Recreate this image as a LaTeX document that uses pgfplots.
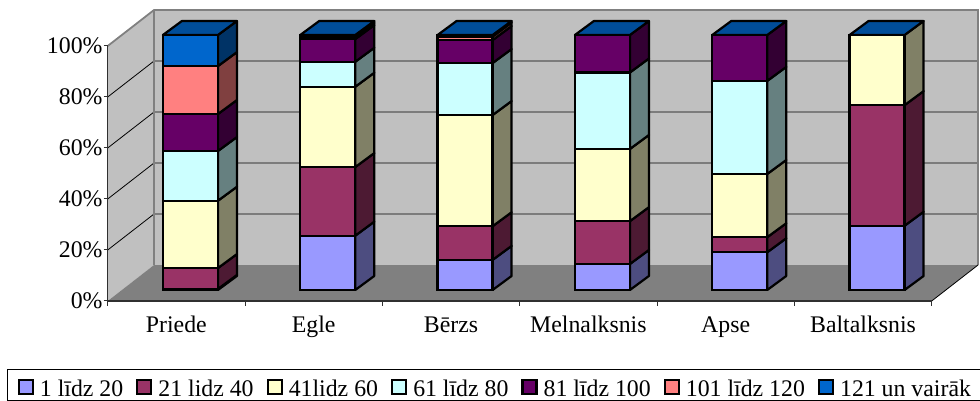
\documentclass[border=0pt]{standalone}
\usepackage{fontspec}
\setmainfont{Liberation Serif}
\usepackage{pgfplots}
\usepackage{pgfplotstable}
\pgfplotsset{compat=1.18}
\definecolor{c1}{HTML}{9999FF}\definecolor{s1}{HTML}{4D4D80}
\definecolor{c2}{HTML}{993366}\definecolor{s2}{HTML}{4D1A33}
\definecolor{c3}{HTML}{FFFFCC}\definecolor{s3}{HTML}{808066}
\definecolor{c4}{HTML}{CCFFFF}\definecolor{s4}{HTML}{668080}
\definecolor{c5}{HTML}{660066}\definecolor{s5}{HTML}{330033}
\definecolor{c6}{HTML}{FF8080}\definecolor{s6}{HTML}{804040}
\definecolor{c7}{HTML}{0066CC}\definecolor{s7}{HTML}{003366}
\definecolor{topc}{HTML}{004D99}
\definecolor{wall}{HTML}{C0C0C0}
\definecolor{floorc}{HTML}{808080}
\definecolor{axc}{HTML}{303030}
% x, then the share of each class (%)
\pgfplotstableread{
x c1 c2 c3 c4 c5 c6 c7
0 0.4 8.2 26.4 19.5 14.5 18.8 12.2
1 21.3 26.9 31.5 9.8 8.9 0.8 0.8
2 11.8 13.2 43.6 20.4 9.0 1.4 0.6
3 10.2 16.8 28.3 30.0 14.7 0 0
4 14.8 5.9 24.8 36.5 18.0 0 0
5 25.2 47.3 27.5 0 0 0 0
}\datatable
\newcommand{\sidef}[4]{% bar, low, high, colour
  \pgfmathsetmacro{\xa}{#1+0.2003}\pgfmathsetmacro{\xb}{#1+0.3387}
  \pgfmathsetmacro{\ya}{#2+5.49}\pgfmathsetmacro{\yb}{#3+5.49}
  \edef\temp{\noexpand\addplot[fill=#4,draw=black,line width=2.2pt,line join=round,forget plot]
    coordinates {(\xa,#2)(\xb,\ya)(\xb,\yb)(\xa,#3)} --cycle;}\temp}
\newcommand{\topf}[1]{%
  \pgfmathsetmacro{\xa}{#1-0.2003}\pgfmathsetmacro{\xb}{#1+0.2003}
  \pgfmathsetmacro{\xc}{#1+0.3387}\pgfmathsetmacro{\xd}{#1-0.0619}
  \edef\temp{\noexpand\addplot[fill=topc,draw=black,line width=2.2pt,line join=round,forget plot]
    coordinates {(\xa,100)(\xb,100)(\xc,105.49)(\xd,105.49)} --cycle;}\temp}
\begin{document}
\begin{tikzpicture}
\useasboundingbox (0,0) rectangle (980pt,401pt);
% walls, floor, ticks
\begin{axis}[
  at={(107.7pt,100pt)},anchor=south west,scale only axis,width=824pt,height=255pt,
  xmin=0,xmax=6,ymin=0,ymax=100,clip=false,
  axis x line*=bottom,axis y line*=left,
  axis line style={axc,line width=1.5pt,-},
  axis on top,
  tick align=outside,
  xtick={0.5,1.5,2.5,3.5,4.5,5.5},
  xticklabels={Priede,Egle,Bērzs,Melnalksnis,Apse,Baltalksnis},
  minor xtick={0,1,2,3,4,5,6},
  ytick={0,20,40,60,80,100},
  yticklabels={0\%,20\%,40\%,60\%,80\%,100\%},
  tick style={axc,line width=1pt},
  major x tick style={draw=none},
  minor tick length=5pt,
  major tick length=4pt,
  y tick label style={font=\fontsize{23.8}{26}\selectfont,inner xsep=0pt,xshift=-1pt},
  x tick label style={font=\fontsize{23.8}{26}\selectfont,anchor=base,yshift=-28pt},
]
\addplot[fill=wall,draw=none,forget plot] coordinates {(0.337,14.1)(6.337,14.1)(6.337,114.1)(0.337,114.1)} --cycle;
\addplot[fill=wall,draw=none,forget plot] coordinates {(0,0)(0.337,14.1)(0.337,114.1)(0,100)} --cycle;
\addplot[fill=floorc,draw=none,forget plot] coordinates {(0,0)(6,0)(6.337,14.1)(0.337,14.1)} --cycle;
\addplot[black,line width=0.8pt,forget plot] coordinates {(0,20)(0.337,34.1)(6.337,34.1)};
\addplot[black,line width=0.8pt,forget plot] coordinates {(0,40)(0.337,54.1)(6.337,54.1)};
\addplot[black,line width=0.8pt,forget plot] coordinates {(0,60)(0.337,74.1)(6.337,74.1)};
\addplot[black,line width=0.8pt,forget plot] coordinates {(0,80)(0.337,94.1)(6.337,94.1)};
\addplot[floorc,line width=1.8pt,forget plot] coordinates {(0,100)(0.337,114.1)(6.337,114.1)(6.337,14.1)};
\addplot[floorc,line width=2.6pt,forget plot] coordinates {(0.337,114.1)(0.337,14.1)};
\addplot[black,line width=0.8pt,forget plot] coordinates {(6,0)(6.337,14.1)};
\end{axis}
% side and top faces
\begin{axis}[
  at={(107.7pt,100pt)},anchor=south west,scale only axis,width=824pt,height=255pt,
  xmin=-0.6022,xmax=5.3978,ymin=-4.31,ymax=95.69,clip=false,hide axis]
\sidef{0}{0}{0.4}{s1}\sidef{0}{0.4}{8.6}{s2}\sidef{0}{8.6}{35}{s3}\sidef{0}{35}{54.5}{s4}\sidef{0}{54.5}{69}{s5}\sidef{0}{69}{87.8}{s6}\sidef{0}{87.8}{100}{s7}\topf{0}
\sidef{1}{0}{21.3}{s1}\sidef{1}{21.3}{48.2}{s2}\sidef{1}{48.2}{79.7}{s3}\sidef{1}{79.7}{89.5}{s4}\sidef{1}{89.5}{98.4}{s5}\sidef{1}{98.4}{99.2}{s6}\sidef{1}{99.2}{100}{s7}\topf{1}
\sidef{2}{0}{11.8}{s1}\sidef{2}{11.8}{25}{s2}\sidef{2}{25}{68.6}{s3}\sidef{2}{68.6}{89}{s4}\sidef{2}{89}{98}{s5}\sidef{2}{98}{99.4}{s6}\sidef{2}{99.4}{100}{s7}\topf{2}
\sidef{3}{0}{10.2}{s1}\sidef{3}{10.2}{27}{s2}\sidef{3}{27}{55.3}{s3}\sidef{3}{55.3}{85.3}{s4}\sidef{3}{85.3}{100}{s5}\topf{3}
\sidef{4}{0}{14.8}{s1}\sidef{4}{14.8}{20.7}{s2}\sidef{4}{20.7}{45.5}{s3}\sidef{4}{45.5}{82}{s4}\sidef{4}{82}{100}{s5}\topf{4}
\sidef{5}{0}{25.2}{s1}\sidef{5}{25.2}{72.5}{s2}\sidef{5}{72.5}{100}{s3}\topf{5}
\end{axis}
% front faces and legend
\begin{axis}[
  at={(107.7pt,100pt)},anchor=south west,scale only axis,width=824pt,height=255pt,
  xmin=-0.6022,xmax=5.3978,ymin=-4.31,ymax=95.69,clip=false,hide axis,
  ybar stacked,bar width=55pt,
  legend columns=7,
  legend image code/.code={\draw[#1,line width=2.2pt,draw=black] (0pt,-9.5pt) rectangle (14pt,4.5pt);},
  legend style={at={(axis description cs:-0.1218,-0.2667)},anchor=north west,
    draw=black,line width=0.8pt,font=\fontsize{23.8}{26}\selectfont,
    inner xsep=10pt,inner ysep=2pt,
    nodes={inner xsep=0pt,inner ysep=2pt,text height=22.6pt,text depth=0pt},
    /tikz/every even column/.append style={column sep=13pt},
    /tikz/every odd column/.append style={column sep=6pt}},
]
\addplot[fill=c1,draw=black,line width=2.2pt] table[x=x,y=c1]{\datatable};
\addplot[fill=c2,draw=black,line width=2.2pt] table[x=x,y=c2]{\datatable};
\addplot[fill=c3,draw=black,line width=2.2pt] table[x=x,y=c3]{\datatable};
\addplot[fill=c4,draw=black,line width=2.2pt] table[x=x,y=c4]{\datatable};
\addplot[fill=c5,draw=black,line width=2.2pt] table[x=x,y=c5]{\datatable};
\addplot[fill=c6,draw=black,line width=2.2pt] table[x=x,y=c6]{\datatable};
\addplot[fill=c7,draw=black,line width=2.2pt] table[x=x,y=c7]{\datatable};
\legend{1 līdz 20,21 lidz 40,41lidz 60,61 līdz 80,81 līdz 100,101 līdz 120,121 un vairāk}
\end{axis}
\end{tikzpicture}
\end{document}
